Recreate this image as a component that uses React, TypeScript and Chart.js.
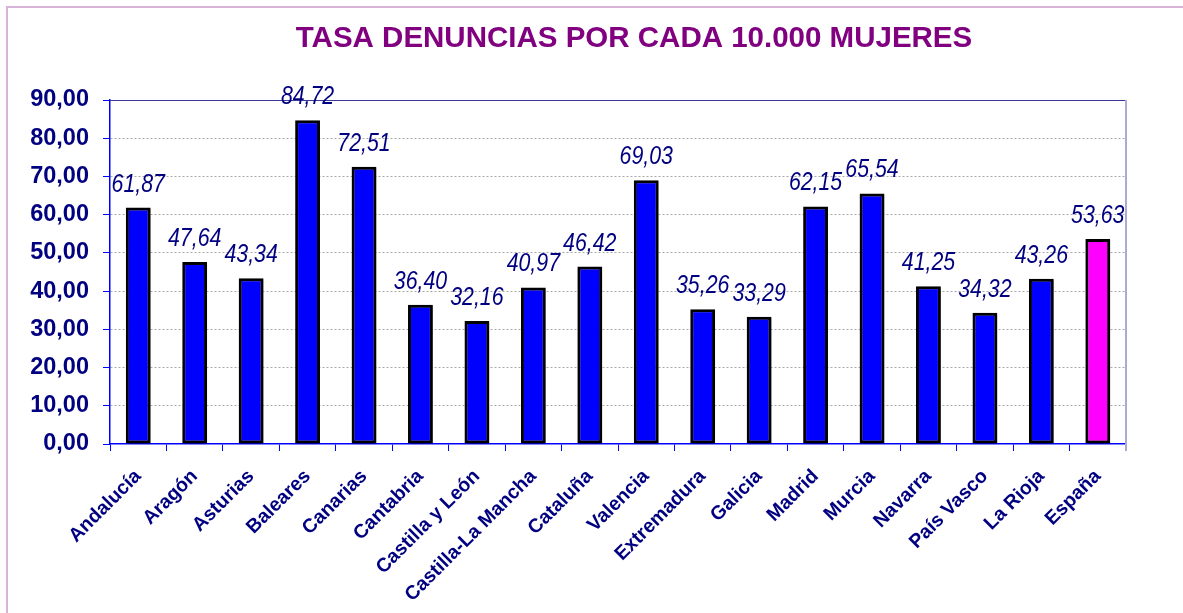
import React, { useEffect, useRef } from 'react';
import { Chart, registerables } from 'chart.js';

Chart.register(...registerables);

const TITLE = 'TASA DENUNCIAS POR CADA 10.000 MUJERES';

const regions = [
  'Andalucía', 'Aragón', 'Asturias', 'Baleares', 'Canarias', 'Cantabria',
  'Castilla y León', 'Castilla-La Mancha', 'Cataluña', 'Valencia', 'Extremadura',
  'Galicia', 'Madrid', 'Murcia', 'Navarra', 'País Vasco', 'La Rioja', 'España',
];

const tasas = [
  61.87, 47.64, 43.34, 84.72, 72.51, 36.40,
  32.16, 40.97, 46.42, 69.03, 35.26,
  33.29, 62.15, 65.54, 41.25, 34.32, 43.26, 53.63,
];

const highlightRegion = 'España';

const yMin = 0;
const yMax = 90;
const yStep = 10;

const FONT = '"Liberation Sans", Arial, sans-serif';

const fmt = (v: number) => Number(v).toFixed(2).replace('.', ',');

const decorPlugin = {
  id: 'decor',
  beforeDraw(chart: any) {
    const { ctx } = chart;
    ctx.save();
    ctx.fillStyle = '#ffffff';
    ctx.fillRect(0, 0, chart.width, chart.height);
    ctx.strokeStyle = '#d8b4d8';
    ctx.lineWidth = 2;
    ctx.strokeRect(7, 7, chart.width + 40, chart.height + 40);
    ctx.restore();
  },
  beforeDatasetsDraw(chart: any) {
    const { ctx } = chart;
    ctx.save();
    ctx.shadowColor = 'rgba(0,0,0,0.3)';
    ctx.shadowOffsetX = 2;
    ctx.shadowOffsetY = 1;
    ctx.shadowBlur = 0;
  },
  afterDatasetsDraw(chart: any) {
    const { ctx, chartArea } = chart;
    ctx.restore();
    // plot-area frame: top and right edges
    ctx.save();
    ctx.strokeStyle = '#3a3a9a';
    ctx.lineWidth = 1;
    ctx.beginPath();
    ctx.moveTo(chartArea.left, chartArea.top + 0.5);
    ctx.lineTo(chartArea.right, chartArea.top + 0.5);
    ctx.stroke();
    ctx.strokeStyle = '#aaaad4';
    ctx.lineWidth = 2;
    ctx.beginPath();
    ctx.moveTo(chartArea.right, chartArea.top);
    ctx.lineTo(chartArea.right, chartArea.bottom + 7);
    ctx.stroke();
    ctx.restore();
    // value labels
    const meta = chart.getDatasetMeta(0);
    const data = chart.data.datasets[0].data as number[];
    meta.data.forEach((el: any, i: number) => {
      ctx.save();
      ctx.translate(el.x, el.y - 16);
      ctx.scale(0.82, 1);
      ctx.font = `italic 26px ${FONT}`;
      ctx.fillStyle = '#000080';
      ctx.textAlign = 'center';
      ctx.textBaseline = 'alphabetic';
      ctx.fillText(fmt(data[i]), 0, 0);
      ctx.restore();
    });
  },
  afterDraw(chart: any) {
    const { ctx } = chart;
    ctx.save();
    ctx.font = `bold 29.5px ${FONT}`;
    ctx.fillStyle = '#800080';
    ctx.textAlign = 'center';
    ctx.textBaseline = 'alphabetic';
    ctx.fillText(TITLE, 634, 47);
    ctx.restore();
  },
};

export default function App() {
  const canvasRef = useRef<HTMLCanvasElement | null>(null);

  useEffect(() => {
    if (!canvasRef.current) return;
    const chart = new Chart(canvasRef.current, {
      type: 'bar',
      data: {
        labels: regions,
        datasets: [
          {
            data: tasas,
            backgroundColor: regions.map((r) => (r === highlightRegion ? '#ff00ff' : '#0000ff')),
            borderColor: '#000000',
            borderWidth: 3,
            borderSkipped: false,
            categoryPercentage: 1,
            barPercentage: 0.44,
          },
        ],
      },
      options: {
        responsive: false,
        animation: false,
        devicePixelRatio: 1,
        layout: { padding: { left: 0, right: 57, top: 100, bottom: 0 } },
        plugins: {
          legend: { display: false },
          title: { display: false },
          tooltip: { enabled: false },
        },
        scales: {
          x: {
            grid: {
              display: true,
              drawOnChartArea: false,
              color: '#0000ff',
              tickColor: '#0000ff',
              tickLength: 7,
              offset: true,
            },
            border: { color: '#0000ff', width: 1.5 },
            ticks: {
              color: '#000080',
              font: { family: FONT, size: 19.5, weight: 'bold' },
              minRotation: 45,
              maxRotation: 45,
              autoSkip: false,
              padding: 14,
            },
            afterFit: (s: any) => {
              s.height = 169;
            },
          },
          y: {
            min: yMin,
            max: yMax,
            ticks: {
              stepSize: yStep,
              callback: (v: any) => fmt(Number(v)),
              color: '#000080',
              font: { family: FONT, size: 23.5, weight: 'bold' },
              padding: 14,
            },
            grid: {
              color: (c: any) => (c.tick && c.tick.value === 0 ? 'rgba(0,0,0,0)' : '#a8a8a8'),
              tickColor: '#0000ff',
              tickLength: 7,
            },
            border: { color: '#0000ff', width: 1.5, dash: [2, 2] },
            afterFit: (s: any) => {
              s.width = 110;
            },
          },
        },
      },
      plugins: [decorPlugin],
    } as any);
    return () => chart.destroy();
  }, []);

  return (
    <div style={{ position: 'fixed', left: 0, top: 0, width: 1183, height: 613, background: '#fff' }}>
      <canvas ref={canvasRef} width={1183} height={613} style={{ width: 1183, height: 613, display: 'block' }} />
    </div>
  );
}
